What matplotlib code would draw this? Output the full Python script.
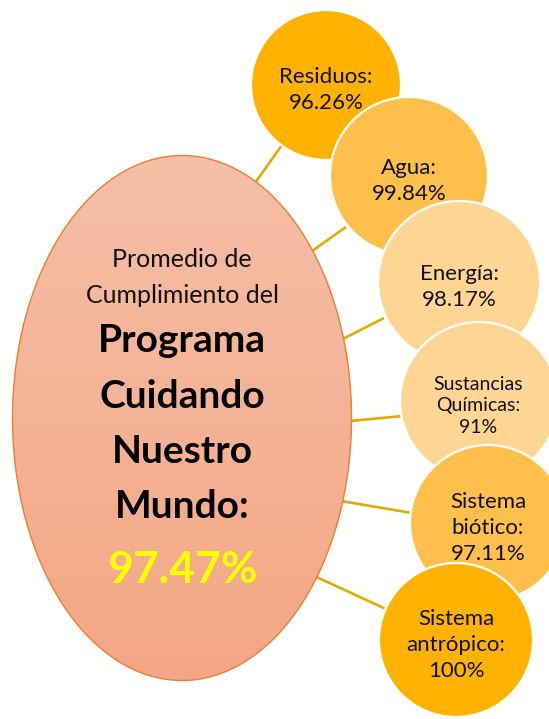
import numpy as np
import matplotlib
matplotlib.use("Agg")
import matplotlib.pyplot as plt
from matplotlib.patches import Ellipse, Circle
from matplotlib.colors import LinearSegmentedColormap

# data
categories = ["Residuos", "Agua", "Energía", "Sustancias Químicas",
              "Sistema biótico", "Sistema antrópico"]
values = [96.26, 99.84, 98.17, 91, 97.11, 100]
intro_lines = ["Promedio de", "Cumplimiento del"]
program_lines = ["Programa", "Cuidando", "Nuestro", "Mundo:"]
average = 97.47

# layout (pixel coordinates, y down)
W, H = 549, 719
ell_center = (182, 418)
ell_size = (339, 525)
circ_centers = [(326, 85), (409, 176), (459, 282), (479, 401), (488, 523), (456, 640)]
circ_radii = [75, 79, 81, 79, 78, 77]
circ_colors = ["#FFB300", "#FEC04B", "#FED593", "#FED593", "#FEC04B", "#FFB300"]
link_lines = [((250, 190), (287, 138)),
              ((305, 256), (346, 227)),
              ((335, 343), (384, 318)),
              ((340, 422), (402, 416)),
              ((335, 500), (412, 513)),
              ((310, 574), (388, 610))]
link_color = "#E2AC00"

plt.rcParams['font.family'] = ['Lato', 'DejaVu Sans']

fig = plt.figure(figsize=(W / 100, H / 100), dpi=100)
ax = fig.add_axes([0, 0, 1, 1])
ax.set_xlim(0, W)
ax.set_ylim(H, 0)
ax.axis('off')

# connector lines behind everything
for (x0, y0), (x1, y1) in link_lines:
    ax.plot([x0, x1], [y0, y1], color=link_color, lw=1.9, zorder=1,
            solid_capstyle='butt')

# big ellipse with vertical gradient
ell = Ellipse(ell_center, ell_size[0], ell_size[1], facecolor='none',
              edgecolor='#ED7D31', lw=1.0, zorder=3)
ax.add_patch(ell)
cmap = LinearSegmentedColormap.from_list('peach', ['#F5BFA8', '#F4A784'])
grad = np.linspace(0, 1, 256).reshape(-1, 1)
x0 = ell_center[0] - ell_size[0] / 2
y0 = ell_center[1] - ell_size[1] / 2
im = ax.imshow(grad, cmap=cmap, aspect='auto', zorder=2,
               extent=(x0, x0 + ell_size[0], y0 + ell_size[1], y0))
im.set_clip_path(ell)

# title text inside the ellipse
cx = ell_center[0]
for i, line in enumerate(intro_lines):
    ax.text(cx, 267 + 36 * i, line, ha='center', va='baseline',
            fontsize=18, color='#111111', zorder=4)
for i, line in enumerate(program_lines):
    ax.text(cx, 352 + 55.5 * i, line, ha='center', va='baseline',
            fontsize=28, fontweight='bold', color='black', zorder=4)
ax.text(cx, 583, f"{average:.2f}%", ha='center', va='baseline',
        fontsize=32, fontweight='bold', color='#FFFF00', zorder=4)

# satellite circles, later ones overlap earlier ones
for i, (cat, val) in enumerate(zip(categories, values)):
    c = Circle(circ_centers[i], circ_radii[i], facecolor=circ_colors[i],
               edgecolor='white', lw=1.6, zorder=5 + i)
    ax.add_patch(c)
    label = cat.replace(" ", "\n") + ":\n" + f"{val:g}%"
    small = cat.startswith("Sustancias")
    ax.text(circ_centers[i][0] - (1 if small else 0), circ_centers[i][1] + 5,
            label, ha='center', va='center',
            fontsize=14 if small else 16, linespacing=1.3 if small else 1.4,
            color='#111111', zorder=5 + i)

fig.savefig('out.png', dpi=100, facecolor='white')
